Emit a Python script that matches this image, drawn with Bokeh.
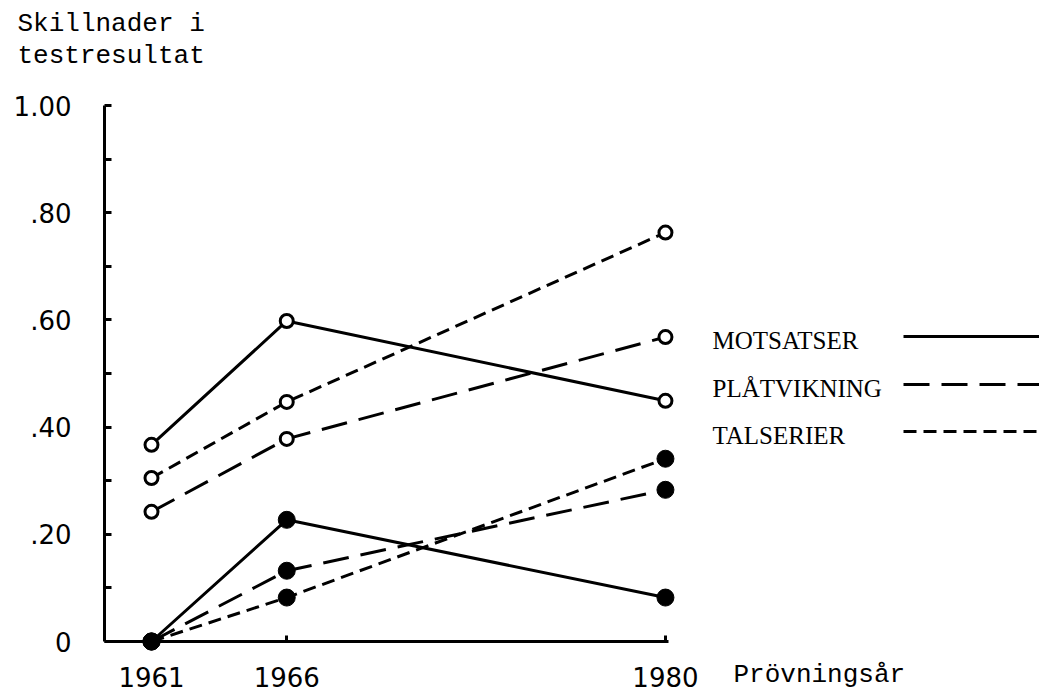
from bokeh.plotting import figure
from bokeh.models import Range1d, FixedTicker
from bokeh.core.properties import value
from bokeh.embed import file_html
from bokeh.resources import INLINE

# ---------------- data ----------------
years = [1961, 1966, 1980]
series_names = ["MOTSATSER", "PLÅTVIKNING", "TALSERIER"]
open_motsatser = [0.367, 0.598, 0.449]
open_platvikning = [0.242, 0.378, 0.568]
open_talserier = [0.305, 0.447, 0.763]
filled_motsatser = [0.0, 0.227, 0.082]
filled_platvikning = [0.0, 0.132, 0.283]
filled_talserier = [0.0, 0.082, 0.341]
y_ticks = [0, 0.2, 0.4, 0.6, 0.8, 1.0]
y_tick_labels = ["0", ".20", ".40", ".60", ".80", "1.00"]
y_minor_ticks = [0.1, 0.3, 0.5, 0.7, 0.9]
title_lines = ["Skillnader i", "testresultat"]
x_title = "Prövningsår"

# ---------------- layout constants (pixels in figure space) ----------------
W, H = 1039, 692
PX_YEAR = 27.05      # pixels per year
X0_PX = 151          # pixel position of first year
Y0_PX = 641          # pixel position of value 0 (from top)
PX_UNIT = 536        # pixels per 1.0 unit


def dx(px):
    return years[0] + (px - X0_PX) / PX_YEAR


def dy(py):
    return (Y0_PX - py) / PX_UNIT


p = figure(width=W, height=H, output_backend="svg", toolbar_location=None,
           x_range=Range1d(dx(0), dx(W)), y_range=Range1d(dy(H), dy(0)),
           min_border=0, min_border_left=0, min_border_right=0,
           min_border_top=0, min_border_bottom=0)
p.outline_line_color = None
p.grid.visible = False
p.background_fill_color = "white"
p.border_fill_color = "white"

axis_x_left = dx(104)

# x axis
xa = p.xaxis[0]
xa.fixed_location = 0
xa.bounds = (axis_x_left, years[-1] + 3 / PX_YEAR)
xa.ticker = FixedTicker(ticks=years)
xa.axis_line_width = 3
xa.major_tick_line_width = 3
xa.major_tick_in = 6
xa.major_tick_out = 0
xa.minor_tick_line_color = None
xa.major_label_standoff = 25
xa.major_label_text_font = "DejaVu Sans"
xa.major_label_text_font_size = "26px"
xa.major_label_text_color = "black"

# y axis
ya = p.yaxis[0]
ya.fixed_location = axis_x_left
ya.bounds = (0, 1)
ya.ticker = FixedTicker(ticks=y_ticks, minor_ticks=y_minor_ticks)
ya.major_label_overrides = {t: l for t, l in zip(y_ticks, y_tick_labels)}
ya.axis_line_width = 3
ya.major_tick_line_width = 3
ya.minor_tick_line_width = 3
ya.major_tick_in = 7
ya.major_tick_out = 0
ya.minor_tick_in = 7
ya.minor_tick_out = 0
ya.major_label_standoff = 33
ya.major_label_text_font = "DejaVu Sans"
ya.major_label_text_font_size = "26px"
ya.major_label_text_color = "black"

dashes = ["solid", "26 12", "13 7"]
open_vals = [open_motsatser, open_platvikning, open_talserier]
filled_vals = [filled_motsatser, filled_platvikning, filled_talserier]

for vals, dash in zip(open_vals + filled_vals, dashes + dashes):
    p.line(years, vals, line_color="black", line_width=3, line_dash=dash)

for vals in open_vals:
    p.scatter(years, vals, marker="circle", size=13, fill_color="white",
              line_color="black", line_width=3)
for vals in filled_vals:
    p.scatter(years, vals, marker="circle", size=17, fill_color="black",
              line_color="black", line_width=1)

# title (y axis label) as two text lines
title_y_px = [23, 55]
p.text(x=[dx(17)] * 2, y=[dy(v) for v in title_y_px], text=title_lines,
       text_font=value("Liberation Mono"), text_font_size="26px",
       text_baseline="middle", text_align="left", text_color="black")

# x axis title
p.text(x=[dx(733)], y=[dy(674)], text=[x_title],
       text_font=value("Liberation Mono"), text_font_size="26px",
       text_baseline="middle", text_align="left", text_color="black")

# legend (labels left, line sample right)
leg_text_x = dx(712)
leg_rows_px = [340, 388, 435]
p.text(x=[leg_text_x] * 3, y=[dy(v) for v in leg_rows_px], text=series_names,
       text_font=value("Liberation Serif"), text_font_size="25px",
       text_baseline="middle", text_align="left", text_color="black")
for row, dash in zip(leg_rows_px, dashes):
    p.line([dx(903), dx(W)], [dy(row - 4)] * 2, line_color="black",
           line_width=3, line_dash=dash)

open("out.html", "w").write(file_html(p, INLINE))
